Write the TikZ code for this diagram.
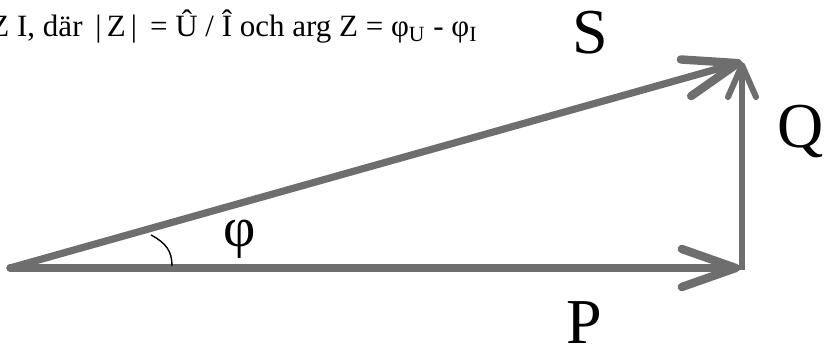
\documentclass[tikz,border=0pt]{standalone}
\usepackage{fontspec}
\setmainfont{Liberation Serif}
\usetikzlibrary{arrows.meta}

\begin{document}
\begin{tikzpicture}[x=0.5pt,y=-0.5pt,
    vec/.style={draw=black!57, line width=3.6pt, line cap=round,
        -{Straight Barb[length=27pt,width=19pt,line width=4.2pt,round]}},
    qvec/.style={draw=black!57, line width=2.6pt,
        -{Straight Barb[length=16pt,width=14pt,line width=3pt,round]}},
    lbl/.style={font=\fontsize{32}{36}\selectfont, inner sep=0pt}]
    \useasboundingbox (0,0) rectangle (828,351);

    % Points of the triangle
    \coordinate (O) at (10,268);
    \coordinate (Pend) at (740,268);
    \coordinate (Qbot) at (742,270);
    \coordinate (Stip) at (742,62);

    % Vectors
    \draw[vec] (O) -- (Pend);
    \draw[qvec] (Qbot) -- (Stip);
    \draw[vec] (O) -- (Stip);

    % Angle mark
    \coordinate (a1) at (151,235);
    \coordinate (a2) at (172,266);
    \draw[line width=0.7pt] (a1) .. controls (166,243) and (172,251) .. (a2);

    % Labels
    \node[lbl] (labelS) at (590,33) {S};
    \node[lbl] (labelQ) at (801,132) {Q};
    \node[lbl] (labelP) at (584,323) {P};
    \node[font=\fontsize{28}{32}\selectfont, inner sep=0pt] (labelPhi) at (240,239) {φ};

    % Formula
    \node[anchor=base east, font=\fontsize{15.5}{18}\selectfont, inner sep=0pt] (formula) at (478,37)
        {Z I, där~\,|\,Z\,|~\,= Û / Î och arg Z = φ\textsubscript{U} - φ\textsubscript{I}};
\end{tikzpicture}
\end{document}
